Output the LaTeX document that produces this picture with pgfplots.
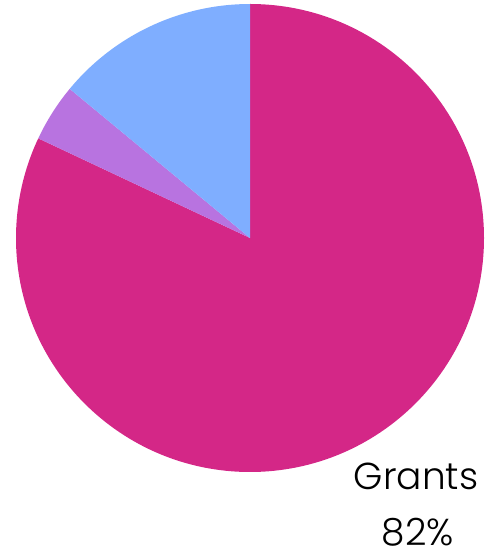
\documentclass[border=0pt]{standalone}
\usepackage{fontspec}
\setmainfont{Poppins}[UprightFont=* Light]
\usepackage{pgfplots}
\pgfplotsset{compat=1.18}
\definecolor{grantcol}{HTML}{D42787}
\definecolor{purpcol}{HTML}{B873E0}
\definecolor{bluecol}{HTML}{7FAEFF}
\begin{document}
\begin{tikzpicture}
\begin{axis}[scale only axis, width=492pt, height=552pt,
  xmin=0, xmax=492, ymin=0, ymax=552, hide axis, clip=false]
% values: Grants 82, purple 4, blue 14 (percent), clockwise from 12 o'clock
\fill[grantcol] (axis cs:250,314) -- ++(90:234pt) arc[start angle=90, delta angle=-82*3.6, radius=234pt] -- cycle;
\fill[purpcol] (axis cs:250,314) -- ++(90-82*3.6:234pt) arc[start angle=90-82*3.6, delta angle=-4*3.6, radius=234pt] -- cycle;
\fill[bluecol] (axis cs:250,314) -- ++(90-86*3.6:234pt) arc[start angle=90-86*3.6, delta angle=-14*3.6, radius=234pt] -- cycle;
\node[anchor=base, inner sep=0pt, font=\fontsize{37.5}{57}\selectfont] at (axis cs:416,62) {Grants};
\node[anchor=base, inner sep=0pt, font=\fontsize{37.5}{57}\selectfont] at (axis cs:418,6) {82\%};
\path (axis cs:0,0) (axis cs:492,552);
\end{axis}
\end{tikzpicture}
\end{document}
